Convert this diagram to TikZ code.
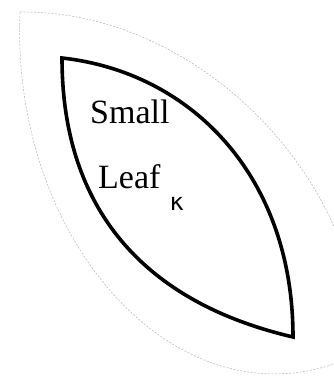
\documentclass[tikz,border=0pt]{standalone}
\usepackage{fontspec}
\setmainfont{Liberation Serif}
\newfontfamily\kappafont{DejaVu Sans}
\usetikzlibrary{positioning}

\begin{document}
\begin{tikzpicture}[
  x=1pt, y=-1pt,
  rim/.style={draw=black!30, line width=0.5pt, dash pattern=on 2pt off 1.5pt},
  blade/.style={draw=black, line width=3.6pt, line join=miter},
  every node/.style={inner sep=0pt}
]
\useasboundingbox (0,0) rectangle (333,386);
% outer faint outline
\coordinate (otip) at (20,12);
\coordinate (obase) at (362,352);
\draw[rim] (otip) .. controls (200,10) and (362,180) .. (obase)
  .. controls (190,440) and (10,250) .. (otip);
% the leaf
\coordinate (tip) at (62,58);
\coordinate (base) at (293,337);
\draw[blade] (tip) .. controls (190,72) and (293,175) .. (base)
  .. controls (143,302) and (62,208) .. cycle;
% labels
\node[anchor=base west, font=\fontsize{34}{40}\selectfont] (small) at (90,123) {Small};
\node[anchor=base west, font=\fontsize{34}{40}\selectfont] (leaf) at (98,188) {Leaf};
\node[anchor=base west, font=\kappafont\fontsize{24}{28}\selectfont] (kappa)
  [right=9pt of leaf.base east, yshift=-16pt] {κ};
\end{tikzpicture}
\end{document}
